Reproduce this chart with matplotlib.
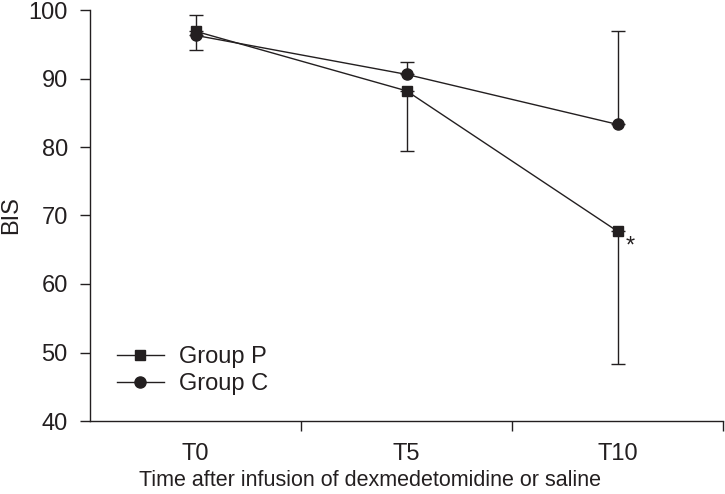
import matplotlib
matplotlib.use("Agg")
import matplotlib.pyplot as plt
import numpy as np
from matplotlib.lines import Line2D

categories = ["T0", "T5", "T10"]
group_p = [96.9, 88.2, 67.7]
group_p_err_low = [2.7, 8.8, 19.4]
group_c = [96.3, 90.6, 83.3]
group_c_err_up = [2.9, 1.8, 13.6]

plt.rcParams['font.family'] = ['Liberation Sans', 'DejaVu Sans']
col = '#231f20'
lw = 1.0

fig = plt.figure(figsize=(7.25, 4.94), dpi=100)
ax = fig.add_axes([90/725, 1-421/494, (723-90)/725, (421-10)/494])
x = np.arange(len(categories))

ax.errorbar(x, group_p, yerr=[group_p_err_low, [0]*3], color=col, lw=lw,
            marker='s', ms=7, capsize=5, capthick=lw, elinewidth=lw,
            label='Group P', zorder=3)
ax.errorbar(x, group_c, yerr=[[0]*3, group_c_err_up], color=col, lw=lw,
            marker='o', ms=8, capsize=5, capthick=lw, elinewidth=lw,
            label='Group C', zorder=3)

ax.text(x[2] + 0.06, group_p[2] - 0.6, '*', fontsize=17, ha='center', va='top', color=col)

ax.set_xlim(-0.5, 2.5)
ax.set_ylim(40, 100)
ax.set_yticks(np.arange(40, 101, 10))
ax.set_xticks([0.5, 1.5, 2.5])
ax.set_xticklabels([])
ax.set_xticks(x, minor=True)
ax.set_xticklabels(categories, minor=True)
ax.tick_params(axis='x', which='minor', length=0, pad=16, labelsize=17, colors=col)
ax.tick_params(axis='x', which='major', length=7, width=lw, color=col)
ax.tick_params(axis='y', length=7, width=lw, labelsize=17, color=col, labelcolor=col, pad=9)
for s in ['top', 'right']:
    ax.spines[s].set_visible(False)
for s in ['left', 'bottom']:
    ax.spines[s].set_linewidth(lw)
    ax.spines[s].set_color(col)

ax.set_ylabel('BIS', fontsize=17, color=col)
ax.yaxis.set_label_coords(-0.108, 0.5)
ax.set_xlabel('Time after infusion of dexmedetomidine or saline', fontsize=15.5, color=col)
ax.xaxis.set_label_coords(0.442, -0.12)

labels = ['Group P', 'Group C']
h = [Line2D([], [], color=col, lw=lw, marker='s', ms=7),
     Line2D([], [], color=col, lw=lw, marker='o', ms=8)]
ax.legend(h, labels, loc='lower left', bbox_to_anchor=(0.027, 0.04), frameon=False,
          fontsize=17, handlelength=2.0, handletextpad=0.65, labelspacing=0.2,
          labelcolor=col, borderaxespad=0)

fig.savefig('out.png', dpi=100)
